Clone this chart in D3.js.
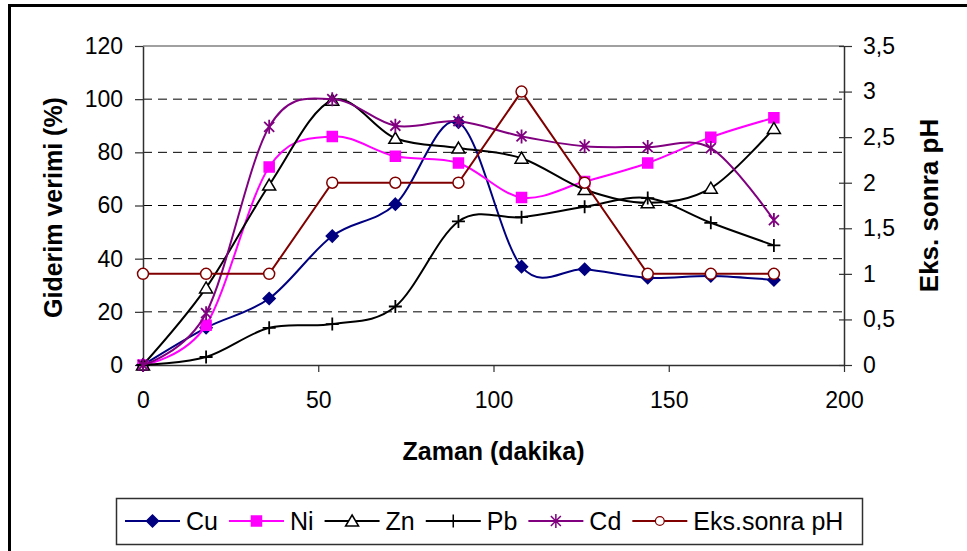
<!DOCTYPE html>
<html>
<head>
<meta charset="utf-8">
<script src="https://cdn.jsdelivr.net/npm/d3@7"></script>
<style>
  body { margin: 0; background: #fff; }
  svg text { font-family: "Liberation Sans", Arial, sans-serif; fill: #000; }
</style>
</head>
<body>
<svg id="chart" width="967" height="551"></svg>
<script>
// veriler
const zaman = [0, 18, 36, 54, 72, 90, 108, 126, 144, 162, 180];
const cu = [0, 14, 25, 48.5, 60.5, 91.3, 37, 36, 32.8, 33.5, 32];
const ni = [0, 15, 74.5, 86, 78.5, 76, 63, 69, 76, 85.7, 93];
const zn = [0, 29, 67.7, 99.6, 85.3, 81.6, 77.8, 66, 61, 66.5, 89];
const pb = [0, 3, 14, 15.4, 22, 54, 55.6, 59.5, 62.8, 53.5, 45];
const cd = [0, 19.5, 89.6, 100, 90, 91.7, 86, 82.3, 82, 81.6, 54.5];
const ph = [1, 1, 1, 2, 2, 2, 3, 2, 1, 1, 1];

const xTicks = [0, 50, 100, 150, 200];
const yLeftTicks = [0, 20, 40, 60, 80, 100, 120];
const yRightTicks = [0, 0.5, 1, 1.5, 2, 2.5, 3, 3.5];
const yRightLabels = ["0", "0,5", "1", "1,5", "2", "2,5", "3", "3,5"];

const seriesNames = ["Cu", "Ni", "Zn", "Pb", "Cd", "Eks.sonra pH"];

const svg = d3.select("#chart");

// dis cerceve
svg.append("rect")
    .attr("x", 9.5).attr("y", 5.5)
    .attr("width", 1000).attr("height", 600)
    .attr("fill", "none").attr("stroke", "#000").attr("stroke-width", 3);

const x = d3.scaleLinear().domain([0, 200]).range([143, 844]);
const yL = d3.scaleLinear().domain([0, 120]).range([365, 46]);
const yR = d3.scaleLinear().domain([0, 3.5]).range([365, 46]);

// kesikli yatay cizgiler
svg.append("g").selectAll("line")
    .data(yLeftTicks.filter(v => v > 0 && v < 120))
    .enter().append("line")
    .attr("x1", x(0)).attr("x2", x(200))
    .attr("y1", d => yL(d)).attr("y2", d => yL(d))
    .attr("stroke", "#000").attr("stroke-width", 1)
    .attr("stroke-dasharray", "9,6");

// ust kenar
svg.append("line")
    .attr("x1", x(0)).attr("x2", x(200))
    .attr("y1", yL(120)).attr("y2", yL(120))
    .attr("stroke", "#808080").attr("stroke-width", 1.5);

// eksenler
const axisLeft = svg.append("g")
    .attr("transform", `translate(${x(0)},0)`)
    .call(d3.axisLeft(yL).tickValues(yLeftTicks).tickSize(8).tickSizeOuter(0).tickPadding(12));

const axisBottom = svg.append("g")
    .attr("transform", `translate(0,${yL(0)})`)
    .call(d3.axisBottom(x).tickValues(xTicks).tickSize(7).tickSizeOuter(0).tickPadding(20));

const axisRight = svg.append("g")
    .attr("transform", `translate(${x(200)},0)`)
    .call(d3.axisRight(yR).tickValues(yRightTicks).tickSize(8).tickSizeOuter(0).tickPadding(11)
        .tickFormat((d, i) => yRightLabels[i]));
axisRight.selectAll(".tick line").attr("x1", -5);

[axisLeft, axisBottom, axisRight].forEach(a => {
    a.selectAll(".domain").attr("stroke", "#303030").attr("stroke-width", 1.5);
    a.selectAll(".tick line").attr("stroke", "#303030").attr("stroke-width", 1.2);
    a.selectAll("text")
        .style("font-family", "'Liberation Sans', Arial, sans-serif")
        .style("font-size", "23px").attr("fill", "#000");
});

// eksen basliklari
svg.append("text")
    .attr("transform", `translate(62,${(yL(0) + yL(120)) / 2 + 2}) rotate(-90)`)
    .attr("text-anchor", "middle")
    .style("font-size", "25px").style("font-weight", "bold")
    .text("Giderim verimi (%)");

svg.append("text")
    .attr("transform", `translate(938,${(yR(0) + yR(3.5)) / 2}) rotate(-90)`)
    .attr("text-anchor", "middle")
    .style("font-size", "26px").style("font-weight", "bold")
    .text("Eks. sonra pH");

svg.append("text")
    .attr("x", (x(0) + x(200)) / 2).attr("y", 460)
    .attr("text-anchor", "middle")
    .style("font-size", "25px").style("font-weight", "bold")
    .text("Zaman (dakika)");

// isaretler
const markers = {
    diamond: "M0,-6L6,0L0,6L-6,0Z",
    square: "M-5,-5H5V5H-5Z",
    triangle: "M0,-6L6.5,5L-6.5,5Z",
    plus: "M-6.5,0H6.5M0,-6.5V6.5",
    star: "M-5,-5L5,5M-5,5L5,-5M0,-7V7",
    circle: "M5.5,0A5.5,5.5 0 1,1 -5.5,0A5.5,5.5 0 1,1 5.5,0Z"
};

const series = [
    { name: seriesNames[0], values: cu, color: "#000080", marker: "diamond", fill: "#000080", y: yL, smooth: true },
    { name: seriesNames[1], values: ni, color: "#ff00ff", marker: "square", fill: "#ff00ff", y: yL, smooth: true },
    { name: seriesNames[2], values: zn, color: "#000000", marker: "triangle", fill: "#ffffff", y: yL, smooth: true },
    { name: seriesNames[3], values: pb, color: "#000000", marker: "plus", fill: "none", y: yL, smooth: true },
    { name: seriesNames[4], values: cd, color: "#800080", marker: "star", fill: "none", y: yL, smooth: true },
    { name: seriesNames[5], values: ph, color: "#800000", marker: "circle", fill: "#ffffff", y: yR, smooth: false }
];

series.forEach(s => {
    const pts = zaman.map((t, i) => [t, s.values[i]]);
    const line = d3.line()
        .x(d => x(d[0]))
        .y(d => s.y(d[1]))
        .curve(s.smooth ? d3.curveCatmullRom.alpha(0) : d3.curveLinear);

    svg.append("path")
        .datum(pts)
        .attr("d", line)
        .attr("fill", "none")
        .attr("stroke", s.color)
        .attr("stroke-width", 2);

    svg.append("g").selectAll("path")
        .data(pts)
        .enter().append("path")
        .attr("d", markers[s.marker])
        .attr("transform", d => `translate(${x(d[0])},${s.y(d[1])})`)
        .attr("fill", s.fill)
        .attr("stroke", s.color)
        .attr("stroke-width", s.marker === "plus" || s.marker === "star" ? 1.8 : 1.5);
});

// lejant
const legend = svg.append("g");
legend.append("rect")
    .attr("x", 116.5).attr("y", 498.5)
    .attr("width", 746).attr("height", 46)
    .attr("fill", "#fff").attr("stroke", "#303030").attr("stroke-width", 1.5);

let cx = 125;
const ly = 521;
series.forEach(s => {
    legend.append("line")
        .attr("x1", cx).attr("x2", cx + 55)
        .attr("y1", ly).attr("y2", ly)
        .attr("stroke", s.color).attr("stroke-width", 2);
    legend.append("path")
        .attr("d", markers[s.marker])
        .attr("transform", `translate(${cx + 27.5},${ly}) scale(${s.marker === "circle" ? 0.8 : 1})`)
        .attr("fill", s.fill)
        .attr("stroke", s.color)
        .attr("stroke-width", 1.5);
    const t = legend.append("text")
        .attr("x", cx + 61).attr("y", ly + 9)
        .style("font-size", "25px")
        .text(s.name);
    cx = cx + 61 + t.node().getComputedTextLength() + 11;
});
</script>
</body>
</html>
